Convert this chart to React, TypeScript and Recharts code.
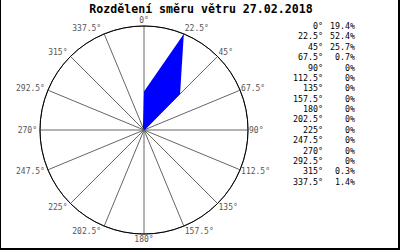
import { Legend, PolarAngleAxis, PolarGrid, PolarRadiusAxis, Radar, RadarChart } from "recharts"

// ── Data ──────────────────────────────────────────────────────────
const directions = [
    "0°", "22.5°", "45°", "67.5°", "90°", "112.5°", "135°", "157.5°",
    "180°", "202.5°", "225°", "247.5°", "270°", "292.5°", "315°", "337.5°",
]
const shares = [19.4, 52.4, 25.7, 0.7, 0, 0, 0, 0, 0, 0, 0, 0, 0, 0, 0.3, 1.4]
const title = "Rozdělení směru větru 27.02.2018"

const data = directions.map((dir, i) => ({ dir, share: shares[i] }))

const CX = 144
const CY = 130
const R = 104
const MONO = "'DejaVu Sans Mono', monospace"

const fmt = (v: number) => (v === 0 ? "0%" : `${v.toFixed(1)}%`)

// label sits right at the rim point, anchored away from the centre
const AngleTick = (props: any) => {
    const { payload } = props
    const a = (payload.coordinate * Math.PI) / 180
    const cos = Math.cos(a)
    const sin = Math.sin(a)
    const px = CX + R * cos
    const py = CY - R * sin
    const anchor = cos > 0.01 ? "start" : cos < -0.01 ? "end" : "middle"
    const x = anchor === "start" ? px + 1 : anchor === "end" ? px - 3 : px
    const y = py - 5.5 * sin
    return (
        <text x={x} y={y} textAnchor={anchor} dominantBaseline="central"
            fontFamily={MONO} fontSize={8} fill="#555">
            {payload.value}
        </text>
    )
}

const ShareList = () => (
    <div style={{ fontFamily: MONO, fontSize: 8.3, color: "#000" }}>
        {directions.map((d, i) => (
            <div key={d} style={{ display: "flex", height: 10.38, lineHeight: "10.38px" }}>
                <span style={{ width: 42, textAlign: "right" }}>{d}</span>
                <span style={{ width: 32, textAlign: "right" }}>{fmt(shares[i])}</span>
            </div>
        ))}
    </div>
)

export default function App() {
    return (
        <div style={{
            position: "absolute", left: 0, top: 0, width: 400, height: 250,
            boxSizing: "border-box", borderLeft: "1px solid #000",
            borderRight: "2px solid #000", borderBottom: "2px solid #000",
            background: "#fff", overflow: "hidden",
        }}>
            <div style={{
                position: "absolute", left: 0, top: 2, width: 400, textAlign: "center",
                fontFamily: MONO, fontWeight: "bold", fontSize: 11.6, lineHeight: "14px",
            }}>
                {title}
            </div>
            <div style={{ position: "absolute", left: -1, top: 0 }}>
                <RadarChart width={400} height={250} data={data} cx={CX} cy={CY}
                    outerRadius={R} startAngle={90} endAngle={-270}
                    margin={{ top: 0, right: 0, bottom: 0, left: 0 }}>
                    <PolarGrid gridType="circle" polarRadius={[R]} stroke="#666" />
                    <PolarRadiusAxis domain={[0, 52.4]} tick={false} axisLine={false} />
                    <PolarAngleAxis dataKey="dir" tick={<AngleTick />} tickLine={false} axisLine={false} />
                    <Radar dataKey="share" fill="#0000ff" fillOpacity={1} stroke="none"
                        isAnimationActive={false} />
                    <PolarGrid gridType="circle" polarRadius={[R]} radialLines={false} stroke="#000" />
                    <Legend layout="vertical" align="right" verticalAlign="top"
                        wrapperStyle={{ left: 281, top: 21, width: 80 }}
                        content={() => <ShareList />} />
                </RadarChart>
            </div>
        </div>
    )
}
